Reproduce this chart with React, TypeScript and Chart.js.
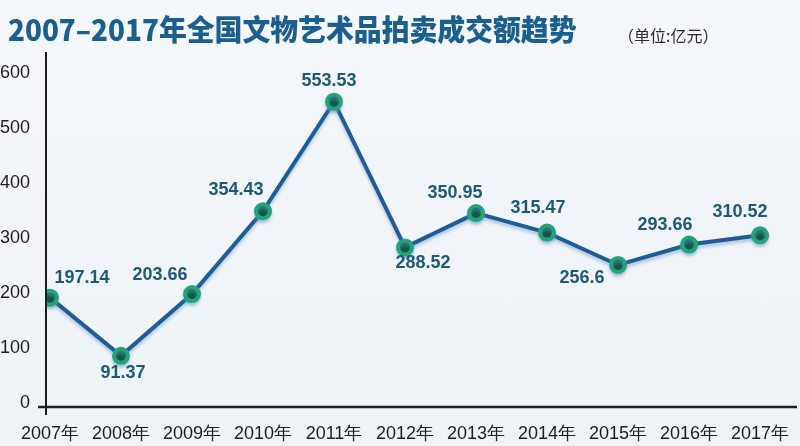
import React, { useEffect, useRef } from "react";
import { Chart, registerables } from "chart.js";

Chart.register(...registerables);

const title = "2007–2017年全国文物艺术品拍卖成交额趋势";
const unitText = "（单位:亿元）";
const years = ["2007年", "2008年", "2009年", "2010年", "2011年", "2012年", "2013年", "2014年", "2015年", "2016年", "2017年"];
const values = [197.14, 91.37, 203.66, 354.43, 553.53, 288.52, 350.95, 315.47, 256.6, 293.66, 310.52];
const yTicks = [0, 100, 200, 300, 400, 500, 600];
// label offsets (dx, dy) relative to each point, in px
const labelOffsets: [number, number][] = [
  [32, -20], [2, 17], [-32, -19], [-27, -21], [-5, -21], [18, 16],
  [-21, -20], [-9, -25], [-36, 13], [-24, -20], [-20, -23],
];

export default function App() {
  const ref = useRef<HTMLCanvasElement>(null);
  useEffect(() => {
    document.body.style.margin = "0";
    const canvas = ref.current!;
    const axesPlugin = {
      id: "axesLines",
      afterDraw(chart: any) {
        const { ctx, chartArea } = chart;
        ctx.save();
        ctx.strokeStyle = "#1e1e1e";
        ctx.lineWidth = 2;
        ctx.beginPath();
        ctx.moveTo(chartArea.left, chartArea.top);
        ctx.lineTo(chartArea.left, chartArea.bottom + 9);
        ctx.stroke();
        ctx.lineWidth = 2.5;
        ctx.beginPath();
        ctx.moveTo(chartArea.left - 8, chartArea.bottom + 1);
        ctx.lineTo(chartArea.right, chartArea.bottom + 1);
        ctx.stroke();
        ctx.restore();
      },
    };
    const shadowPlugin = {
      id: "lineShadow",
      beforeDatasetDraw(chart: any) {
        const ctx = chart.ctx;
        ctx.save();
        ctx.shadowColor = "rgba(110,150,200,0.45)";
        ctx.shadowBlur = 3;
        ctx.shadowOffsetY = 3;
      },
      afterDatasetDraw(chart: any) {
        chart.ctx.restore();
      },
    };
    const labelPlugin = {
      id: "valueLabels",
      afterDatasetsDraw(chart: any) {
        const { ctx } = chart;
        const meta = chart.getDatasetMeta(0);
        ctx.save();
        ctx.font = "bold 18px 'Liberation Sans', Arial, sans-serif";
        ctx.fillStyle = "#1d5a78";
        ctx.textAlign = "center";
        ctx.textBaseline = "middle";
        meta.data.forEach((pt: any, i: number) => {
          const [dx, dy] = labelOffsets[i];
          ctx.fillText(String(values[i]), pt.x + dx, pt.y + dy);
        });
        ctx.restore();
      },
    };
    const chart = new Chart(canvas, {
      type: "line",
      data: {
        datasets: [
          {
            data: values.map((v, i) => ({ x: i, y: v })),
            borderColor: "#1f5d98",
            borderWidth: 4,
            pointRadius: 7,
            pointBorderWidth: 4,
            pointBorderColor: "#22a37a",
            pointBackgroundColor: "#0f5845",
            tension: 0,
          },
        ],
      },
      options: {
        responsive: false,
        animation: false,
        layout: { autoPadding: false, padding: { top: 52, right: 3, left: 0, bottom: 0 } },
        plugins: { legend: { display: false }, tooltip: { enabled: false }, title: { display: false } },
        scales: {
          x: {
            type: "linear",
            min: -0.056,
            max: 10.52,
            grid: { display: false },
            border: { display: false },
            afterBuildTicks: (axis: any) => {
              axis.ticks = years.map((_, i) => ({ value: i }));
            },
            afterFit: (axis: any) => {
              axis.height = 40;
            },
            ticks: {
              autoSkip: false,
              maxRotation: 0,
              padding: 9,
              color: "#1e1e1e",
              font: { size: 18, family: "'Liberation Sans', Arial, sans-serif" },
              callback: (v: any) => years[v] ?? "",
            },
          },
          y: {
            min: 0,
            max: 644,
            grid: { display: false },
            border: { display: false },
            afterBuildTicks: (axis: any) => {
              axis.ticks = yTicks.map((v) => ({ value: v }));
            },
            afterFit: (axis: any) => {
              axis.width = 46;
            },
            ticks: {
              padding: 8,
              labelOffset: -3,
              color: "#1e1e1e",
              font: { size: 18, family: "'Liberation Sans', Arial, sans-serif" },
            },
          },
        },
      },
      plugins: [shadowPlugin, labelPlugin, axesPlugin],
    });
    return () => chart.destroy();
  }, []);

  return (
    <div style={{ position: "relative", width: 800, height: 446, background: "linear-gradient(180deg,#f4f7fb 0%,#eef3f8 100%)", overflow: "hidden" }}>
      <canvas ref={ref} width={800} height={446} style={{ display: "block" }} />
      <div
        style={{
          position: "absolute",
          left: 8,
          top: 8,
          fontFamily: "'Noto Sans CJK SC', sans-serif",
          fontWeight: 900,
          fontSize: 29,
          lineHeight: "40px",
          color: "#1b5f8e",
          whiteSpace: "nowrap",
          transformOrigin: "left top",
          transform: "scaleX(0.96)",
        }}
      >
        {title}
      </div>
      <div
        style={{
          position: "absolute",
          left: 618,
          top: 23,
          fontFamily: "'Noto Sans CJK SC', sans-serif",
          fontSize: 16,
          lineHeight: "24px",
          color: "#2a2a2a",
          whiteSpace: "nowrap",
        }}
      >
        {unitText}
      </div>
    </div>
  );
}
